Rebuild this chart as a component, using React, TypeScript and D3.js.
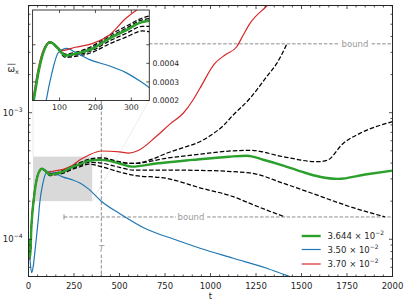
import React, { useEffect, useRef } from "react";
import * as d3 from "d3";

// ---- data ----
const T_GREEN = [0, 8, 17, 28, 41, 55, 74, 97, 116, 144, 191, 238, 285, 331, 400, 500, 570, 700, 900, 1100, 1200, 1290, 1400, 1500, 1600, 1700, 1850, 2000];
const V_GREEN = [1.0e-4, 7.2e-5, 1.34e-4, 2.0e-4, 2.77e-4, 3.33e-4, 3.61e-4, 3.43e-4, 3.24e-4, 3.29e-4, 3.43e-4, 3.71e-4, 3.94e-4, 4.17e-4, 4.24e-4, 3.97e-4, 3.75e-4, 3.97e-4, 4.24e-4, 4.49e-4, 4.57e-4, 4.25e-4, 3.82e-4, 3.42e-4, 3.12e-4, 3.0e-4, 3.25e-4, 3.49e-4];

const T_BLUE = [0, 8, 17, 26, 36, 45, 54, 62, 79, 97, 121, 144, 191, 238, 285, 331, 400, 500, 650, 800, 942, 1125, 1309, 1437, 1500];
const V_BLUE = [1.0e-4, 7.0e-5, 5.45e-5, 6.1e-5, 8.2e-5, 1.08e-4, 1.45e-4, 1.95e-4, 2.77e-4, 3.33e-4, 3.44e-4, 3.33e-4, 3.1e-4, 2.96e-4, 2.77e-4, 2.49e-4, 2.0e-4, 1.6e-4, 1.2e-4, 1.0e-4, 8.5e-5, 7.08e-5, 5.9e-5, 5.07e-5, 4.75e-5];

const T_RED = [0, 8, 17, 28, 41, 55, 74, 107, 144, 191, 238, 285, 322, 400, 500, 550, 600, 700, 780, 850, 904, 942, 1024, 1080, 1144, 1180, 1217, 1309, 1340];
const V_RED = [1.0e-4, 7.0e-5, 1.45e-4, 2.15e-4, 2.9e-4, 3.4e-4, 3.63e-4, 3.38e-4, 3.47e-4, 3.57e-4, 3.8e-4, 4.27e-4, 4.55e-4, 4.98e-4, 4.9e-4, 4.8e-4, 5.0e-4, 6.45e-4, 8.2e-4, 9.9e-4, 1.26e-3, 1.56e-3, 2.45e-3, 2.86e-3, 3.32e-3, 4.11e-3, 5.08e-3, 6.97e-3, 7.8e-3];

const T_D1 = [0, 8, 17, 28, 41, 55, 74, 97, 116, 144, 191, 238, 285, 331, 400, 500, 576, 680, 759, 850, 942, 1000, 1070, 1125, 1217, 1309, 1364, 1420];
const V_D1 = [1.0e-4, 7.2e-5, 1.34e-4, 2.0e-4, 2.77e-4, 3.33e-4, 3.62e-4, 3.45e-4, 3.28e-4, 3.33e-4, 3.5e-4, 3.8e-4, 4.05e-4, 4.28e-4, 4.4e-4, 4.1e-4, 3.97e-4, 4.3e-4, 4.78e-4, 5.3e-4, 5.9e-4, 6.6e-4, 7.9e-4, 9.6e-4, 1.3e-3, 1.93e-3, 2.45e-3, 3.5e-3];

const T_D2 = [0, 8, 17, 28, 41, 55, 74, 97, 116, 144, 191, 238, 285, 331, 400, 500, 576, 759, 942, 1125, 1217, 1400, 1583, 1640, 1730, 1821, 2000];
const V_D2 = [1.0e-4, 7.2e-5, 1.34e-4, 2.0e-4, 2.77e-4, 3.33e-4, 3.61e-4, 3.44e-4, 3.26e-4, 3.31e-4, 3.46e-4, 3.75e-4, 3.99e-4, 4.23e-4, 4.3e-4, 4.05e-4, 3.97e-4, 4.37e-4, 4.7e-4, 5.0e-4, 5.05e-4, 4.49e-4, 4.1e-4, 4.2e-4, 5.74e-4, 6.87e-4, 8.5e-4];

const T_D3 = [0, 8, 17, 28, 41, 55, 74, 97, 116, 144, 191, 238, 285, 331, 400, 500, 576, 759, 942, 1217, 1400, 1583, 1766, 1960];
const V_D3 = [1.0e-4, 7.2e-5, 1.34e-4, 2.0e-4, 2.77e-4, 3.33e-4, 3.6e-4, 3.42e-4, 3.22e-4, 3.26e-4, 3.38e-4, 3.64e-4, 3.85e-4, 4.05e-4, 4.0e-4, 3.7e-4, 3.52e-4, 3.52e-4, 3.5e-4, 3.34e-4, 2.77e-4, 2.24e-4, 1.81e-4, 1.5e-4];

const T_D4 = [0, 8, 17, 28, 41, 55, 74, 97, 116, 144, 191, 238, 285, 331, 400, 500, 576, 759, 942, 1125, 1217, 1300, 1410];
const V_D4 = [1.0e-4, 7.2e-5, 1.34e-4, 2.0e-4, 2.77e-4, 3.33e-4, 3.6e-4, 3.4e-4, 3.19e-4, 3.22e-4, 3.33e-4, 3.56e-4, 3.75e-4, 3.92e-4, 3.75e-4, 3.4e-4, 3.21e-4, 3.03e-4, 2.55e-4, 2.17e-4, 1.92e-4, 1.72e-4, 1.5e-4];

const X_TICKS = [0, 250, 500, 750, 1000, 1250, 1500, 1750, 2000];
const INSET_X_TICKS = [100, 200, 300];
const INSET_Y_TICKS = [2e-4, 3e-4, 4e-4, 5e-4];
const INSET_Y_LABELS = ["0.0002", "0.0003", "0.0004"];
const LEGEND_MANT = ["3.644", "3.50", "3.70"];
const UPPER_BOUND = 3.5e-3;
const LOWER_BOUND = 1.5e-4;
const T_MARK = 400;
const ZOOM_T = [25, 350];
const ZOOM_V = [2e-4, 4.5e-4];

const GREEN = "#2ca02c", BLUE = "#1f77b4", RED = "#d62728";
const FONT = "DejaVu Sans";

const Chart = () => {
  const ref = useRef<SVGSVGElement>(null);

  useEffect(() => {
    const svg = d3.select(ref.current);
    svg.selectAll("*").remove();

    const L = 28.5, R = 392.5, TOP = 5.5, BOT = 276.5;
    const x = d3.scaleLinear().domain([0, 2000]).range([L, R]);
    const y = d3.scaleLog().domain([5.08e-5, 7.03e-3]).range([BOT, TOP]);

    const series = [
      { t: T_D1, v: V_D1, color: "#000", w: 1.25, dash: "4.5,2" },
      { t: T_D2, v: V_D2, color: "#000", w: 1.25, dash: "4.5,2" },
      { t: T_D3, v: V_D3, color: "#000", w: 1.25, dash: "4.5,2" },
      { t: T_D4, v: V_D4, color: "#000", w: 1.25, dash: "4.5,2" },
      { t: T_BLUE, v: V_BLUE, color: BLUE, w: 1.2, dash: null },
      { t: T_RED, v: V_RED, color: RED, w: 1.2, dash: null },
      { t: T_GREEN, v: V_GREEN, color: GREEN, w: 2.4, dash: null },
    ];

    const defs = svg.append("defs");
    defs.append("clipPath").attr("id", "mainClip").append("rect")
      .attr("x", L).attr("y", TOP).attr("width", R - L).attr("height", BOT - TOP);

    const main = svg.append("g");
    const plot = main.append("g").attr("clip-path", "url(#mainClip)");

    // zoom box
    plot.append("rect")
      .attr("x", x(ZOOM_T[0])).attr("y", y(ZOOM_V[1]))
      .attr("width", x(ZOOM_T[1]) - x(ZOOM_T[0]))
      .attr("height", y(ZOOM_V[0]) - y(ZOOM_V[1]))
      .attr("fill", "#d9d9d9");

    // inset geometry
    const IL = 32.6, IR = 149.3, IT = 10, IB = 100.5;

    // connectors
    plot.append("line").attr("x1", IR).attr("y1", IB).attr("x2", x(ZOOM_T[1])).attr("y2", y(ZOOM_V[0]))
      .attr("stroke", "#e4e4e4").attr("stroke-width", 0.7);
    plot.append("line").attr("x1", IL).attr("y1", IT).attr("x2", x(ZOOM_T[0])).attr("y2", y(ZOOM_V[1]))
      .attr("stroke", "#e4e4e4").attr("stroke-width", 0.7);

    // T marker and bounds
    const gray = "#8c8c8c";
    plot.append("line").attr("x1", x(T_MARK)).attr("x2", x(T_MARK)).attr("y1", TOP).attr("y2", BOT)
      .attr("stroke", gray).attr("stroke-width", 1).attr("stroke-dasharray", "3.5,1.8");
    plot.append("line").attr("x1", x(T_MARK)).attr("x2", R).attr("y1", y(UPPER_BOUND)).attr("y2", y(UPPER_BOUND))
      .attr("stroke", gray).attr("stroke-width", 1).attr("stroke-dasharray", "3.5,1.8");
    plot.append("line").attr("x1", x(195)).attr("x2", R).attr("y1", y(LOWER_BOUND)).attr("y2", y(LOWER_BOUND))
      .attr("stroke", gray).attr("stroke-width", 1).attr("stroke-dasharray", "3.5,1.8");
    plot.append("line").attr("x1", x(195)).attr("x2", x(195)).attr("y1", y(LOWER_BOUND) - 2.5).attr("y2", y(LOWER_BOUND) + 2.5)
      .attr("stroke", gray).attr("stroke-width", 1);

    const label = (cx: number, cy: number, txt: string, italic = false, w = 30) => {
      plot.append("rect").attr("x", cx - w / 2).attr("y", cy - 5).attr("width", w).attr("height", 10).attr("fill", "#fff");
      plot.append("text").attr("x", cx).attr("y", cy + 3).attr("text-anchor", "middle")
        .attr("font-family", FONT).attr("font-size", 8.5).attr("fill", "#999")
        .attr("font-style", italic ? "italic" : "normal").text(txt);
    };
    label(355, y(UPPER_BOUND), "bound");
    label(191, y(LOWER_BOUND), "bound");
    label(x(T_MARK), 248.5, "T", true, 8);

    const line = (xs: any, ys: any) =>
      d3.line<[number, number]>().x(d => xs(d[0])).y(d => ys(d[1])).curve(d3.curveMonotoneX);

    const mainLine = line(x, y);
    series.forEach(s => {
      plot.append("path")
        .attr("d", mainLine(s.t.map((t, i) => [t, s.v[i]] as [number, number])))
        .attr("fill", "none").attr("stroke", s.color).attr("stroke-width", s.w)
        .attr("stroke-dasharray", s.dash);
    });

    // frame + ticks
    const ink = "#262626";
    main.append("rect").attr("x", L).attr("y", TOP).attr("width", R - L).attr("height", BOT - TOP)
      .attr("fill", "none").attr("stroke", ink).attr("stroke-width", 1);

    const tick = (x1: number, y1: number, x2: number, y2: number) =>
      main.append("line").attr("x1", x1).attr("y1", y1).attr("x2", x2).attr("y2", y2)
        .attr("stroke", ink).attr("stroke-width", 0.8);

    d3.range(0, 2001, 50).forEach(t => {
      const major = t % 250 === 0;
      const len = major ? 3.5 : 2;
      tick(x(t), BOT, x(t), BOT - len);
      tick(x(t), TOP, x(t), TOP + len);
    });
    const [ylo, yhi] = y.domain();
    [1e-5, 1e-4, 1e-3].forEach(dec => {
      for (let k = 1; k <= 9; k++) {
        const v = dec * k;
        if (v < ylo || v > yhi) continue;
        const len = k === 1 ? 3.5 : 2;
        tick(L, y(v), L + len, y(v));
        tick(R, y(v), R - len, y(v));
      }
    });

    X_TICKS.forEach(t => {
      main.append("text").attr("x", x(t)).attr("y", 288.5).attr("text-anchor", "middle")
        .attr("font-family", FONT).attr("font-size", 8.5).attr("fill", ink).text(String(t));
    });
    [1e-4, 1e-3].forEach(v => {
      const tx = main.append("text").attr("x", 22.5).attr("y", y(v) + 3).attr("text-anchor", "end")
        .attr("font-family", FONT).attr("font-size", 8.5).attr("fill", ink);
      tx.append("tspan").text("10");
      tx.append("tspan").attr("dy", -4).attr("font-size", 6).text("\u2212" + Math.round(-Math.log10(v)));
    });

    main.append("text").attr("x", (L + R) / 2).attr("y", 298.5).attr("text-anchor", "middle")
      .attr("font-family", FONT).attr("font-size", 8.5).attr("fill", ink).text("t");
    const yl = main.append("text").attr("x", 7.5).attr("y", 71.5)
      .attr("font-family", FONT).attr("font-size", 9).attr("fill", ink);
    yl.append("tspan").text("\u03c9");
    yl.append("tspan").attr("dy", 2.5).attr("font-size", 6.5).text("x");
    main.append("line").attr("x1", 7.5).attr("x2", 15.5).attr("y1", 64.3).attr("y2", 64.3)
      .attr("stroke", ink).attr("stroke-width", 0.7);

    // legend
    const legSeries = [GREEN, BLUE, RED];
    const legW = [2.4, 1.2, 1.2];
    const legY = [236, 249.5, 264];
    legSeries.forEach((c, i) => {
      main.append("line").attr("x1", 301.7).attr("x2", 320.7).attr("y1", legY[i]).attr("y2", legY[i])
        .attr("stroke", c).attr("stroke-width", legW[i]);
      const tx = main.append("text").attr("x", 327.5).attr("y", legY[i] + 3)
        .attr("font-family", FONT).attr("font-size", 8.5).attr("fill", ink);
      tx.append("tspan").text(`${LEGEND_MANT[i]} \u00d7 10`);
      tx.append("tspan").attr("dy", -4).attr("font-size", 6).text("\u22122");
    });

    // ---- inset ----
    const ix = d3.scaleLinear().domain(ZOOM_T).range([IL, IR]);
    const iy = d3.scaleLinear().domain(ZOOM_V).range([IB, IT]);
    const iyTicks = d3.scaleLinear().domain([2e-4, 6.87e-4]).range([IB, IT]);

    defs.append("clipPath").attr("id", "insetClip").append("rect")
      .attr("x", IL).attr("y", IT).attr("width", IR - IL).attr("height", IB - IT);
    const inset = svg.append("g");
    inset.append("rect").attr("x", IL).attr("y", IT).attr("width", IR - IL).attr("height", IB - IT).attr("fill", "#fff");
    const ip = inset.append("g").attr("clip-path", "url(#insetClip)");
    const insetLine = line(ix, iy);
    series.forEach(s => {
      ip.append("path")
        .attr("d", insetLine(s.t.map((t, i) => [t, s.v[i]] as [number, number])))
        .attr("fill", "none").attr("stroke", s.color).attr("stroke-width", s.w === 2.4 ? 2.6 : s.w)
        .attr("stroke-dasharray", s.dash);
    });
    inset.append("rect").attr("x", IL).attr("y", IT).attr("width", IR - IL).attr("height", IB - IT)
      .attr("fill", "none").attr("stroke", ink).attr("stroke-width", 0.9);
    const itick = (x1: number, y1: number, x2: number, y2: number) =>
      inset.append("line").attr("x1", x1).attr("y1", y1).attr("x2", x2).attr("y2", y2)
        .attr("stroke", ink).attr("stroke-width", 0.8);
    INSET_X_TICKS.forEach(t => {
      itick(ix(t), IB, ix(t), IB - 3);
      itick(ix(t), IT, ix(t), IT + 3);
      inset.append("text").attr("x", ix(t)).attr("y", 109.5).attr("text-anchor", "middle")
        .attr("font-family", FONT).attr("font-size", 7.8).attr("fill", ink).text(String(t));
    });
    INSET_Y_TICKS.forEach((v, i) => {
      itick(IL, iyTicks(v), IL + 3, iyTicks(v));
      itick(IR, iyTicks(v), IR - 3, iyTicks(v));
      if (INSET_Y_LABELS[i]) {
        inset.append("text").attr("x", 152.5).attr("y", iyTicks(v) + 2.8)
          .attr("font-family", FONT).attr("font-size", 7.6).attr("fill", ink).text(INSET_Y_LABELS[i]);
      }
    });
  }, []);

  return (
    <svg ref={ref} width={407} height={305}
      style={{ position: "absolute", left: 0, top: 0, background: "#fff" }} />
  );
};

export default function App() {
  return <Chart />;
}
